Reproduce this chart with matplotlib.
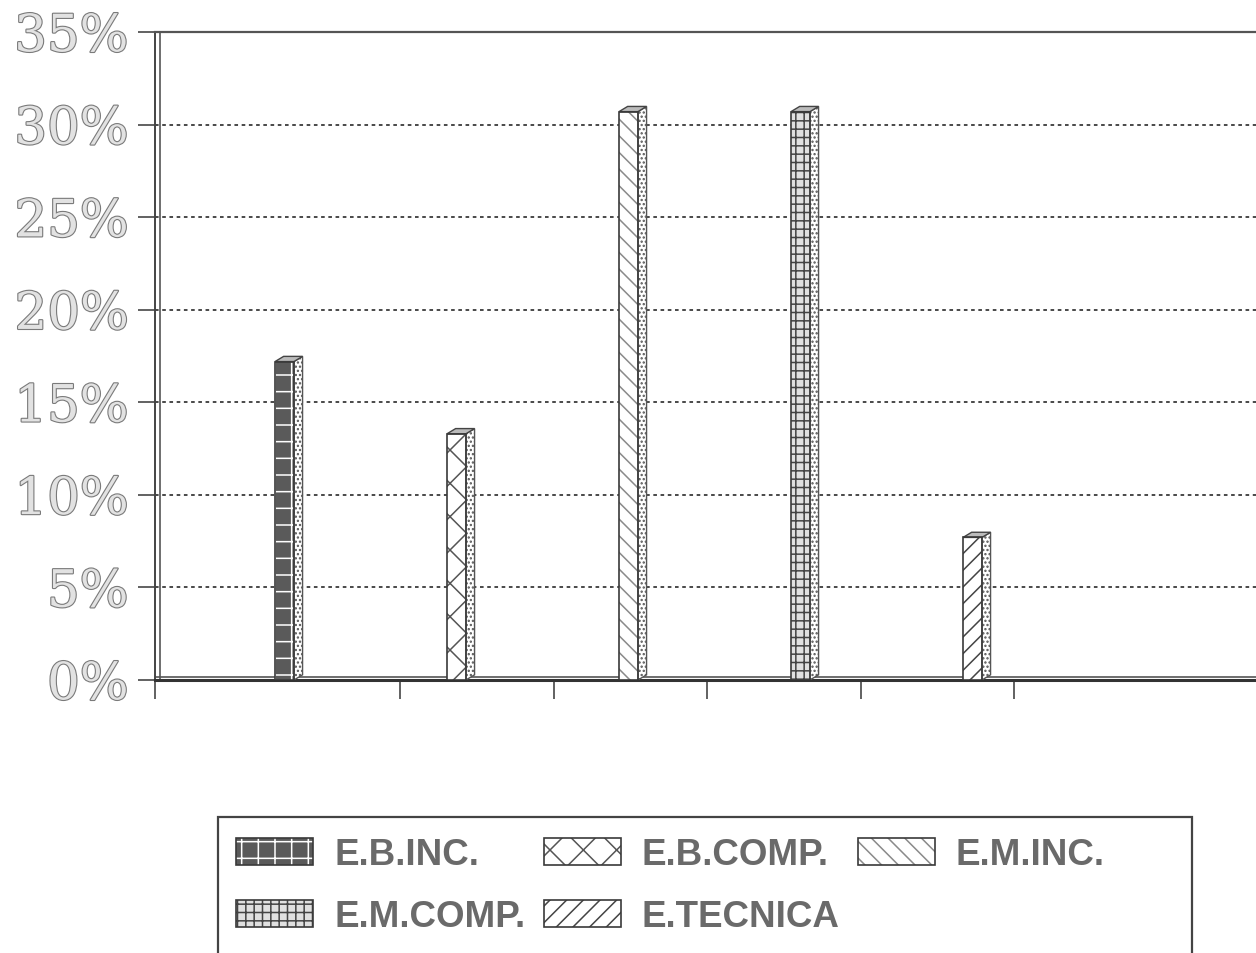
import matplotlib
matplotlib.use("Agg")
import matplotlib.pyplot as plt
import matplotlib.patheffects as pe
from matplotlib.patches import Patch, Polygon, Rectangle
from matplotlib.legend_handler import HandlerTuple

# share of students by school level
series = ["E.B.INC.", "E.B.COMP.", "E.M.INC.", "E.M.COMP.", "E.TECNICA"]
values = [17.2, 13.3, 30.7, 30.7, 7.7]
y_ticks = [0, 5, 10, 15, 20, 25, 30, 35]
y_labels = ["0%", "5%", "10%", "15%", "20%", "25%", "30%", "35%"]

# face colour, hatch colour, hatch
styles = [
    ("#5a5a5a", "white", "+"),
    ("white", "#555555", "x"),
    ("white", "#8a8a8a", "\\\\"),
    ("#e0e0e0", "#444444", "++"),
    ("white", "#444444", "//"),
]

plt.rcParams["hatch.linewidth"] = 1.1

W, H = 1256, 954
px = 172.0                    # pixels per category step
x0 = -(284.5 - 155) / px      # left edge of the plot in data units
fig = plt.figure(figsize=(W / 100, H / 100), dpi=100)
ax = fig.add_axes([155 / W, 1 - 681 / H, 1.0, 648 / H])
ax.set_xlim(x0, x0 + W / px)
ax.set_ylim(0, 35)

w = 0.11      # front face width
d = 0.05      # side depth
dy = 0.28     # vertical offset of the back edge

for i, (v, (face, hc, hatch)) in enumerate(zip(values, styles)):
    ax.bar(i, v, width=w, color=face, edgecolor=hc, hatch=hatch, lw=0, zorder=3)
    ax.bar(i, v, width=w, fill=False, edgecolor="#3a3a3a", lw=1.2, zorder=4)
    xr = i + w / 2
    side = Polygon([(xr, 0), (xr + d, dy), (xr + d, v + dy), (xr, v)],
                   closed=True, facecolor="white", edgecolor="#555555",
                   hatch="....", lw=1.0, zorder=3)
    top = Polygon([(i - w / 2, v), (i - w / 2 + d, v + dy), (xr + d, v + dy), (xr, v)],
                  closed=True, facecolor="#bbbbbb", edgecolor="#444444", lw=1.0, zorder=3)
    ax.add_patch(side)
    ax.add_patch(top)

# dotted grid
for y in y_ticks[1:-1]:
    ax.axhline(y, color="#3a3a3a", lw=1.3, linestyle=(0, (2.0, 2.0)), zorder=1)

# floor and double left wall
ax.axhline(0.18, color="#555555", lw=1.2, zorder=2)
ax.axvline(x0 + 5 / px, color="#555555", lw=1.2, zorder=2)

ax.spines["right"].set_visible(False)
ax.spines["top"].set_color("#555555")
ax.spines["top"].set_linewidth(1.6)
ax.spines["left"].set_color("#444444")
ax.spines["left"].set_linewidth(1.4)
ax.spines["bottom"].set_color("#333333")
ax.spines["bottom"].set_linewidth(2.2)

ax.set_yticks(y_ticks)
ax.set_yticklabels(y_labels, fontfamily="DejaVu Serif", fontsize=37, color="#e2e2e2")
for t in ax.get_yticklabels():
    t.set_path_effects([pe.withStroke(linewidth=1.6, foreground="#7a7a7a")])
ax.tick_params(axis="y", direction="out", length=12, width=1.3, pad=7, color="#555555")

slot = 153.6 / px
ax.set_xticks([x0] + [(400 - 284.5) / px + k * slot for k in range(5)])
ax.tick_params(axis="x", direction="out", length=14, width=1.3, labelbottom=False,
               color="#555555")

# legend, laid out row by row
handles = []
for face, hc, hatch in styles:
    fill = Patch(facecolor=face, edgecolor=hc, hatch=hatch, lw=0)
    edge = Patch(fill=False, edgecolor="#3a3a3a", lw=1.2)
    handles.append((fill, edge))
order = [0, 3, 1, 4, 2]
leg = fig.legend([handles[k] for k in order], [series[k] for k in order],
                 ncol=3, loc="upper left",
                 bbox_to_anchor=(218 / W, 1 - 820 / H), frameon=False,
                 prop={"family": "Liberation Sans", "weight": "bold", "size": 26.5},
                 handlelength=2.09, handleheight=0.76, handletextpad=0.57,
                 columnspacing=0.5, labelspacing=0.73, borderpad=0,
                 handler_map={tuple: HandlerTuple(ndivide=1, pad=0)})
for t in leg.get_texts():
    t.set_color("#6a6a6a")
fig.add_artist(Rectangle((218 / W, 1 - 962 / H), (1192 - 218) / W, (962 - 818) / H,
                         transform=fig.transFigure, fill=False, ec="#444444", lw=1.6))

fig.savefig("out.png", dpi=100)
